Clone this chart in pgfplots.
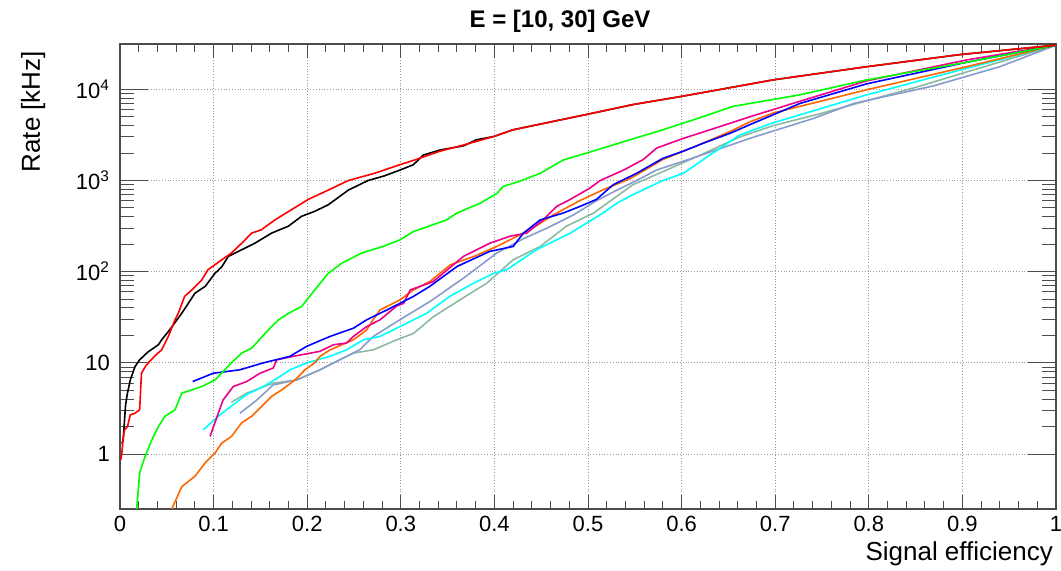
\documentclass[border=0pt]{standalone}
\usepackage{fontspec}
\setmainfont{Liberation Sans}
\usepackage{pgfplots}
\pgfplotsset{compat=1.18}

\definecolor{rgreen}{RGB}{0,255,0}
\definecolor{rorange}{RGB}{255,102,0}
\definecolor{rcyan}{RGB}{0,255,255}
\definecolor{rsea}{RGB}{140,185,160}
\definecolor{rsteel}{RGB}{135,155,205}

\begin{document}
\begin{tikzpicture}
\begin{axis}[
  scale only axis, width=468pt, height=232.5pt,
  at={(0,0)}, anchor=south west,
  xmin=0, xmax=1, ymode=log, ymin=0.25, ymax=31400,
  xtick={0,0.1,0.2,0.3,0.4,0.5,0.6,0.7,0.8,0.9,1},
  xticklabels={0,0.1,0.2,0.3,0.4,0.5,0.6,0.7,0.8,0.9,1},
  minor x tick num=4,
  ytick={1,10,100,1000,10000},
  yticklabels={1,10,10\textsuperscript{2},10\textsuperscript{3},10\textsuperscript{4}},
  tick align=inside,
  xtick style={/pgfplots/major tick length=7pt,/pgfplots/minor tick length=3.8pt},
  ytick style={/pgfplots/major tick length=14pt,/pgfplots/minor tick length=7pt},
  axis line style={black!70, line width=0.6pt},
  every tick/.style={black!70, line width=0.5pt},
  grid=major, major grid style={densely dotted, gray!80, line width=0.4pt},
  tick label style={font=\fontsize{11}{13}\selectfont},
  yticklabel style={xshift=-1.5pt},
  ylabel={Rate [kHz]},
  ylabel style={at={(axis description cs:-0.0855,1)}, anchor=base east, font=\fontsize{13}{15}\selectfont},
  xlabel={Signal efficiency},
  xlabel style={at={(axis description cs:1,-0.1097)}, anchor=base east, xshift=2pt, font=\fontsize{13}{15}\selectfont},
  every axis plot/.append style={line width=0.8pt, no markers},
]
% sea green
\addplot[rsea] coordinates {(0.119,3.7) (0.1354,4.66) (0.1638,6.0) (0.1888,6.5) (0.2137,8.4) (0.235,10.8) (0.2493,12.8) (0.2706,13.9) (0.2956,17.9) (0.3134,21) (0.3347,32) (0.363,49) (0.392,75) (0.420,135) (0.449,189) (0.477,316) (0.506,440) (0.548,900) (0.580,1250) (0.620,1900) (0.662,3000) (0.698,4000) (0.745,5300) (0.798,7500) (0.85,10500) (0.9046,15500) (1,30500)};
% steel blue
\addplot[rsteel] coordinates {(0.128,2.8) (0.146,3.9) (0.1638,5.75) (0.1888,6.5) (0.2137,8.4) (0.228,10) (0.242,11.8) (0.256,13.9) (0.2706,19.5) (0.299,29.7) (0.331,47) (0.367,85) (0.4025,160) (0.431,230) (0.456,300) (0.4846,420) (0.509,600) (0.531,785) (0.552,1000) (0.573,1300) (0.616,1820) (0.673,2900) (0.741,4800) (0.784,7000) (0.869,10900) (0.94,17700) (1,30500)};
% cyan
\addplot[rcyan] coordinates {(0.089,1.85) (0.1068,2.7) (0.1354,4.5) (0.153,5.5) (0.171,7.1) (0.1816,8.4) (0.1995,10) (0.2244,11.8) (0.242,13.9) (0.260,17.9) (0.2778,19.5) (0.299,25) (0.3276,35) (0.352,53.5) (0.378,75) (0.399,96) (0.413,105) (0.445,174) (0.481,265) (0.516,440) (0.531,565) (0.548,700) (0.580,1000) (0.602,1200) (0.625,1750) (0.645,2400) (0.662,3150) (0.698,4300) (0.798,8700) (0.9046,17000) (1,30500)};
% orange
\addplot[rorange] coordinates {(0.0552,0.25) (0.0588,0.30) (0.066,0.44) (0.080,0.57) (0.091,0.80) (0.1015,1.03) (0.1087,1.32) (0.119,1.56) (0.130,2.2) (0.1407,2.6) (0.151,3.3) (0.162,4.3) (0.1728,5.06) (0.187,6.5) (0.1977,8.4) (0.208,10) (0.2137,11.8) (0.2244,13.9) (0.2493,17.9) (0.2636,23) (0.2706,30) (0.2778,38) (0.299,49) (0.3134,63) (0.331,78) (0.353,119) (0.378,147) (0.4025,189) (0.438,288) (0.463,420) (0.491,600) (0.516,790) (0.545,1050) (0.580,1700) (0.616,2400) (0.652,3450) (0.673,4400) (0.698,5500) (0.798,9900) (0.9046,17700) (1,30500)};
% magenta
\addplot[magenta] coordinates {(0.0962,1.56) (0.110,3.9) (0.121,5.5) (0.1354,6.25) (0.1496,7.7) (0.1638,8.8) (0.1674,10.8) (0.185,11.8) (0.2137,13.4) (0.228,15.8) (0.242,16.5) (0.2493,19.5) (0.2636,25) (0.2778,29.7) (0.2956,42) (0.303,45) (0.310,63) (0.3347,78) (0.3668,147) (0.395,205) (0.4167,245) (0.4345,265) (0.452,370) (0.4666,520) (0.481,620) (0.502,825) (0.513,1000) (0.538,1300) (0.559,1700) (0.5734,2270) (0.602,2900) (0.6375,3800) (0.673,5000) (0.7265,7400) (0.798,12400) (0.9046,21000) (1,30500)};
% blue
\addplot[blue] coordinates {(0.0777,6.25) (0.0997,7.7) (0.128,8.4) (0.153,10) (0.1816,11.8) (0.1995,15.2) (0.2244,19.5) (0.2493,24) (0.2636,29.7) (0.285,38) (0.3134,53.5) (0.331,69) (0.360,114) (0.395,167) (0.420,189) (0.431,265) (0.449,370) (0.4736,440) (0.4915,520) (0.509,620) (0.527,900) (0.552,1200) (0.580,1750) (0.602,2100) (0.623,2560) (0.652,3300) (0.673,4100) (0.7265,7000) (0.798,11500) (0.9046,19800) (1,30500)};
% green
\addplot[rgreen] coordinates {(0.0178,0.25) (0.021,0.62) (0.0267,0.94) (0.034,1.43) (0.041,2.0) (0.048,2.6) (0.0588,3.06) (0.066,4.66) (0.0766,5.06) (0.0873,5.5) (0.1015,6.5) (0.112,8.4) (0.119,10) (0.130,12.8) (0.1407,14.5) (0.151,19) (0.162,25) (0.170,30) (0.180,35) (0.194,41.5) (0.208,63) (0.2225,96) (0.237,124) (0.258,160) (0.280,188) (0.299,223) (0.3134,275) (0.349,370) (0.36,440) (0.385,565) (0.4025,720) (0.4095,860) (0.427,980) (0.449,1200) (0.4736,1680) (0.4986,2000) (0.545,2800) (0.580,3600) (0.620,4900) (0.655,6500) (0.7265,8700) (0.798,12700) (0.9046,19800) (1,30500)};
% black
\addplot[black] coordinates {(0.002,1.3) (0.0035,1.43) (0.005,2.5) (0.006,3.5) (0.008,4.66) (0.011,6.5) (0.016,9.1) (0.021,10.8) (0.030,13.2) (0.041,15.8) (0.0445,17.9) (0.053,23) (0.066,35) (0.073,45) (0.080,58) (0.091,69) (0.1015,96) (0.1087,113) (0.1157,147) (0.130,174) (0.144,205) (0.162,265) (0.180,316) (0.194,405) (0.208,459) (0.2225,542) (0.244,785) (0.265,1000) (0.282,1120) (0.299,1300) (0.3134,1490) (0.324,1900) (0.342,2160) (0.367,2400) (0.381,2800) (0.399,3030) (0.420,3600) (0.456,4300) (0.4986,5300) (0.548,6800) (0.598,8300) (0.620,9100) (0.698,12700) (0.798,17700) (0.897,24000) (1,30500)};
% red
\addplot[red] coordinates {(0.001,0.87) (0.002,1.03) (0.0035,1.56) (0.005,1.85) (0.008,2.0) (0.011,2.7) (0.016,2.8) (0.021,3.06) (0.022,5.0) (0.023,7.7) (0.027,9.1) (0.030,9.95) (0.0375,12) (0.0445,13.9) (0.0516,19.5) (0.0588,29.7) (0.0623,35) (0.069,53.5) (0.0766,63) (0.0873,81) (0.094,105) (0.1087,135) (0.119,160) (0.130,205) (0.1407,265) (0.151,288) (0.1656,370) (0.1834,480) (0.201,620) (0.2225,785) (0.244,1000) (0.272,1200) (0.299,1490) (0.315,1680) (0.342,2100) (0.367,2450) (0.40,3050) (0.42,3600) (0.456,4300) (0.4986,5300) (0.548,6800) (0.598,8300) (0.620,9100) (0.698,12700) (0.798,17700) (0.897,24000) (1,30500)};
\end{axis}
\node[anchor=base, font=\bfseries\fontsize{12}{14}\selectfont, inner sep=0pt] at (220pt,240.5pt) {E = [10, 30] GeV};
\pgfresetboundingbox
\path[use as bounding box] (-60pt,-31pt) rectangle (470.5pt,254.5pt);
\end{tikzpicture}
\end{document}
